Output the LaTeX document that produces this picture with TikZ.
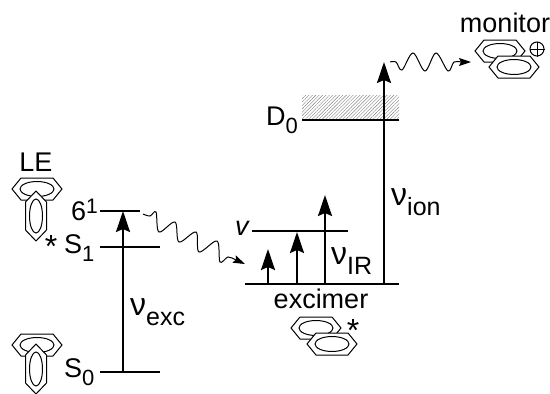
\documentclass[tikz,border=0pt]{standalone}
\usepackage{fontspec}
\setmainfont{Liberation Sans}
\usetikzlibrary{arrows.meta,patterns.meta}

\begin{document}
\begin{tikzpicture}[
        x=1pt,y=-1pt,
        level/.style={line width=2pt},
        uparrow/.style={line width=2pt,-{Stealth[length=21pt,width=14pt,inset=3pt]}},
        wavy/.style={line width=1pt,-{Stealth[length=12pt,width=8pt,inset=2pt]}},
        lbl/.style={inner sep=0pt,font=\fontsize{27}{30}\selectfont},
        starlbl/.style={inner sep=0pt,font=\fontsize{32}{34}\selectfont},
        ringline/.style={line width=1pt,fill=white,line join=miter},
        ringh/.pic={
            \draw[ringline] (-25,0) -- (-16,-11) -- (16,-11) -- (25,0) -- (16,11) -- (-16,11) -- cycle;
            \draw[line width=1pt] (0,0) ellipse (17pt and 7.5pt);},
        ringv/.pic={
            \draw[ringline] (0,-25) -- (-10.5,-14) -- (-10.5,14) -- (0,25) -- (10.5,14) -- (10.5,-14) -- cycle;
            \draw[line width=1pt] (0,0) ellipse (6.5pt and 17pt);}
        ]
        \newcommand{\lowtxt}[1]{\raisebox{-8pt}{\fontsize{22}{24}\selectfont #1}}
        \newcommand{\nusub}[1]{\raisebox{-10pt}{\fontsize{25}{27}\selectfont #1}}
        \newcommand{\uptxt}[1]{\raisebox{7pt}{\fontsize{21}{24}\selectfont #1}}
        \newcommand{\nutxt}{{\fontsize{32}{32}\selectfont ν}}
        \useasboundingbox (0,0) rectangle (550,394);

        % levels
        \coordinate (s0a) at (100,372); \coordinate (s0b) at (160,372);
        \coordinate (s1a) at (100,247); \coordinate (s1b) at (160,247);
        \coordinate (v6a) at (100,211); \coordinate (v6b) at (140,211);
        \coordinate (exa) at (245,284); \coordinate (exb) at (399,284);
        \coordinate (vla) at (252,231); \coordinate (vlb) at (348,231);
        \coordinate (d0a) at (302,120); \coordinate (d0b) at (399,120);

        \fill[pattern={Lines[angle=45,distance=2.4pt,line width=0.4pt]},pattern color=gray]
            (302,95) rectangle (d0b);

        \foreach \i/\j in {s0a/s0b,s1a/s1b,v6a/v6b,exa/exb,vla/vlb,d0a/d0b}
            \draw[level] (\i) -- (\j);

        % excitation and probe arrows
        \coordinate (excb) at (123,372); \coordinate (exct) at (123,211);
        \coordinate (ir1b) at (268,284); \coordinate (ir1t) at (268,249);
        \coordinate (ir2b) at (297,284); \coordinate (ir2t) at (297,232);
        \coordinate (ir3b) at (325,284); \coordinate (ir3t) at (325,195);
        \coordinate (ionb) at (384,284); \coordinate (iont) at (384,62);

        \foreach \i/\j in {excb/exct,ir1b/ir1t,ir2b/ir2t,ir3b/ir3t,ionb/iont}
            \draw[uparrow] (\i) -- (\j);

        % wavy arrows
        \draw[wavy] plot[smooth,tension=0.55] coordinates {(143,214) (150,216) (156,212) (159,232)
            (175,222) (179,242) (196,232) (199,252) (217,241) (220,262) (228,257) (236,260) (245,264)};
        \draw[wavy] plot[smooth,tension=0.55] coordinates {(390,62) (396,62) (402,70) (413,53)
            (425,71) (436,53) (448,71) (454,62) (462,62) (471,62)};

        % rings
        \pic at (37,189) {ringh};
        \pic at (36,216) {ringv};
        \pic at (37,345) {ringh};
        \pic at (36,369) {ringv};
        \pic at (316,328) {ringh};
        \pic at (332,344) {ringh};
        \pic at (500,51) {ringh};
        \pic at (514,67) {ringh};
        \node[circle,draw,line width=1pt,inner sep=0pt,minimum size=14pt] (plus) at (537,49) {};
        \draw[line width=1pt] (plus.west) -- (plus.east) (plus.north) -- (plus.south);

        % labels
        \node[lbl] (le) at (36,162) {LE};
        \node[lbl,anchor=base east] (six) at (98,220) {6\uptxt{1}};
        \node[lbl,anchor=base west] (sone) at (64,253) {S\lowtxt{1}};
        \node[lbl,anchor=base west] (szero) at (64,377) {S\lowtxt{0}};
        \node[lbl,anchor=base west] (dzero) at (266,125) {D\lowtxt{0}};
        \node[starlbl] (star1) at (51,246) {*};
        \node[starlbl] (star2) at (353,330) {*};
        \node[lbl,anchor=base west] (nuexc) at (130,315) {\nutxt\nusub{exc}};
        \node[lbl,anchor=base west] (nuir) at (331,264) {\nutxt\nusub{IR}};
        \node[lbl,anchor=base west] (nuion) at (391,205) {\nutxt\nusub{ion}};
        \node[lbl,anchor=base west] (vib) at (235,235) {\itshape v};
        \node[lbl,anchor=base] (exc) at (321,308) {excimer};
        \node[lbl,anchor=base] (mon) at (505,32) {monitor};
\end{tikzpicture}
\end{document}
